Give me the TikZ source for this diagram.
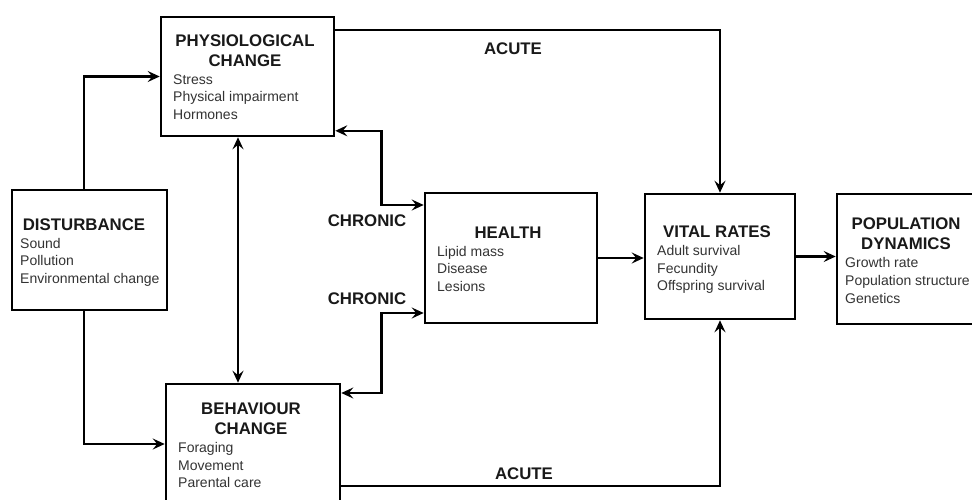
\documentclass[tikz,border=0pt]{standalone}
\usepackage{fontspec}
\setmainfont{Liberation Sans}
\usetikzlibrary{arrows.meta}
\begin{document}
\begin{tikzpicture}[x=1pt,y=-1pt,
  box/.style={draw,line width=2.6pt,inner sep=0pt,fill=white},
  ttl/.style={font=\fontsize{16.8}{18}\selectfont\bfseries,anchor=base,inner sep=0pt,text=black!90},
  itm/.style={font=\fontsize{14}{16}\selectfont,anchor=base west,inner sep=0pt,text=black!80},
  arr/.style={line width=2.5pt,-{Stealth[length=12pt,width=11pt,inset=4.5pt]}},
  darr/.style={line width=2.5pt,{Stealth[length=12pt,width=11pt,inset=4.5pt]}-{Stealth[length=12pt,width=11pt,inset=4.5pt]}}
]
\clip (0,0) rectangle (972,500);
\useasboundingbox (0,0) rectangle (972,500);
\fill[white] (0,0) rectangle (972,500);

% boxes
\node[box,minimum width=155pt,minimum height=120pt] (dist) at (89.5,250) {};
\node[box,minimum width=173pt,minimum height=119pt] (phys) at (247.5,76.5) {};
\node[box,minimum width=174pt,minimum height=132pt] (beh) at (253,450) {};
\node[box,minimum width=172pt,minimum height=130pt] (health) at (511,258) {};
\node[box,minimum width=150pt,minimum height=125pt] (vital) at (720,256.5) {};
\node[box,minimum width=153pt,minimum height=130pt] (pop) at (913.5,259) {};

% texts
\node[ttl] (dt) at (84,230) {DISTURBANCE};
\node[itm] (d1) at (20,248) {Sound};
\node[itm] (d2) at (20,265) {Pollution};
\node[itm] (d3) at (20,283) {Environmental change};

\node[ttl] (pt1) at (245,47) {PHYSIOLOGICAL};
\node[ttl] (pt2) at (245,67) {CHANGE};
\node[itm] (p1) at (173,85) {Stress};
\node[itm] (p2) at (173,102) {Physical impairment};
\node[itm] (p3) at (173,120) {Hormones};

\node[ttl] (bt1) at (251,414) {BEHAVIOUR};
\node[ttl] (bt2) at (251,434) {CHANGE};
\node[itm] (b1) at (178,452) {Foraging};
\node[itm] (b2) at (178,470) {Movement};
\node[itm] (b3) at (178,487) {Parental care};

\node[ttl] (ht) at (508,238) {HEALTH};
\node[itm] (h1) at (437,256) {Lipid mass};
\node[itm] (h2) at (437,273) {Disease};
\node[itm] (h3) at (437,291) {Lesions};

\node[ttl] (vt) at (717,237) {VITAL RATES};
\node[itm] (v1) at (657,255) {Adult survival};
\node[itm] (v2) at (657,273) {Fecundity};
\node[itm] (v3) at (657,290) {Offspring survival};

\node[ttl] (ot1) at (906,229) {POPULATION};
\node[ttl] (ot2) at (906,249) {DYNAMICS};
\node[itm] (o1) at (845,267) {Growth rate};
\node[itm] (o2) at (845,285) {Population structure};
\node[itm] (o3) at (845,303) {Genetics};

% labels
\node[ttl] (c1) at (367,226) {CHRONIC};
\node[ttl] (c2) at (367,304) {CHRONIC};
\node[ttl] (a1) at (513,55) {ACUTE};
\node[ttl] (a2) at (524,479) {ACUTE};

% connectors
\draw[arr] ([xshift=-5.5pt]dist.north) |- (phys.west);
\draw[arr] ([xshift=-5.5pt]dist.south) |- ([yshift=6pt]beh.west);
\draw[darr] ([xshift=-9.5pt]phys.south) -- ([xshift=-9.5pt]phys.south |- beh.north);
\draw[darr] ([yshift=6.5pt]phys.south east) -- ++(46,0) |- ([yshift=53pt]health.west);
\draw[darr] ([yshift=-55pt]health.west) -- ++(-42,0) |- ([yshift=57pt]beh.east);
\draw[arr] ([yshift=46.5pt]phys.east) -| (vital.north);
\draw[arr] ([yshift=-36pt]beh.east) -| (vital.south);
\draw[arr] (health.east) -- (health.east -| vital.west);
\draw[arr] (vital.east) -- (vital.east -| pop.west);
\end{tikzpicture}
\end{document}
